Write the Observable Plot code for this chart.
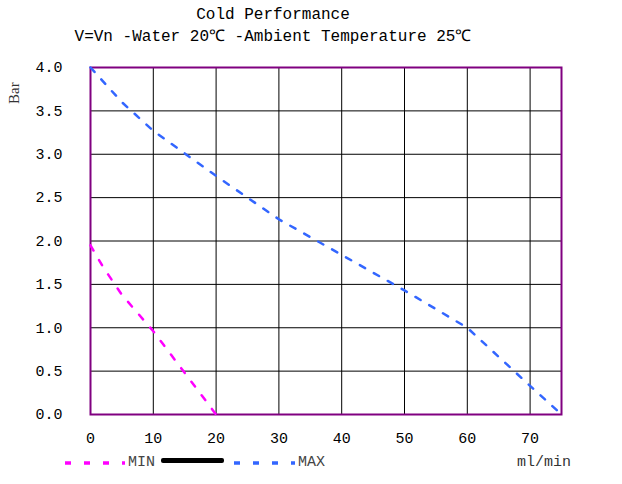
<!DOCTYPE html>
<html>
<head>
<meta charset="utf-8">
<script src="https://cdn.jsdelivr.net/npm/d3@7"></script>
<script src="https://cdn.jsdelivr.net/npm/@observablehq/plot@0.6"></script>
<style>
  html, body { margin: 0; padding: 0; background: #fff; }
  #wrap { position: relative; width: 622px; height: 484px; overflow: hidden; font-family: "Liberation Mono", "DejaVu Sans Mono", monospace; }
  #wrap > svg { position: absolute; left: 0; top: 0; }
  .t { position: absolute; white-space: nowrap; line-height: 1; color: #000; }
  #legend > * { flex: 0 0 auto; }
</style>
</head>
<body>
<div id="wrap">
  <div class="t" style="left:0;width:546px;text-align:center;top:7px;font-size:16px;">Cold Performance</div>
  <div class="t" style="left:0;width:546px;text-align:center;top:29px;font-size:16px;">V=Vn -Water 20℃ -Ambient Temperature 25℃</div>
  <div class="t" style="left:7px;top:104px;font-family:'Liberation Serif',serif;font-size:15px;color:#333;transform:rotate(-90deg);transform-origin:0 0;">Bar</div>
  <div class="t" style="left:517px;top:455px;font-size:15px;color:#333;">ml/min</div>
  <div id="legend" style="position:absolute;left:65px;top:455px;width:320px;display:flex;align-items:center;font-size:15px;color:#444;line-height:1;"></div>
</div>
<script>
// ---- data ----
const minFlow = [0, 2, 5, 10, 15, 20];
const minBar  = [1.95, 1.7, 1.38, 0.96, 0.48, 0];
const maxFlow = [0, 5, 10, 20, 30, 40, 50, 60, 70, 75];
const maxBar  = [4.0, 3.6, 3.27, 2.75, 2.25, 1.84, 1.43, 1.0, 0.33, 0];
const xTicks = [0, 10, 20, 30, 40, 50, 60, 70];
const yTicks = [0, 0.5, 1.0, 1.5, 2.0, 2.5, 3.0, 3.5, 4.0];
const seriesNames = ["MIN", "MAX"];
const seriesColors = ["#ff00ff", "#3366ff"];

const minData = minFlow.map((x, i) => ({x, y: minBar[i]}));
const maxData = maxFlow.map((x, i) => ({x, y: maxBar[i]}));

const chart = Plot.plot({
  width: 622,
  height: 484,
  marginLeft: 90,
  marginRight: 61,
  marginTop: 67,
  marginBottom: 70,
  style: {fontFamily: "'Liberation Mono', monospace", fontSize: "15px", color: "#000", background: "transparent"},
  x: {domain: [0, 75], label: null},
  y: {domain: [0, 4], label: null},
  marks: [
    Plot.gridX(xTicks.filter(d => d > 0), {stroke: "#000", strokeOpacity: 1, strokeWidth: 1}),
    Plot.gridY(yTicks.filter(d => d > 0 && d < 4), {stroke: "#000", strokeOpacity: 1, strokeWidth: 1}),
    Plot.frame({stroke: "#800080", strokeWidth: 2}),
    Plot.line(minData, {x: "x", y: "y", stroke: seriesColors[0], strokeWidth: 2.5, strokeDasharray: "6,11"}),
    Plot.line(maxData, {x: "x", y: "y", stroke: seriesColors[1], strokeWidth: 2.5, strokeDasharray: "6,10"}),
    Plot.axisX(xTicks, {tickSize: 0, tickPadding: 18, label: null, fontSize: 15}),
    Plot.axisY(yTicks, {tickSize: 0, tickPadding: 28, label: null, fontSize: 15, tickFormat: d => d.toFixed(1)})
  ]
});
document.getElementById("wrap").prepend(chart);

// legend
const legend = document.getElementById("legend");
function dashSwatch(color, w, ml) {
  const s = document.createElementNS("http://www.w3.org/2000/svg", "svg");
  s.setAttribute("width", w); s.setAttribute("height", 10);
  s.style.width = w + "px"; s.style.height = "10px"; s.style.display = "block";
  s.style.marginLeft = ml + "px";
  const l = document.createElementNS("http://www.w3.org/2000/svg", "line");
  l.setAttribute("x1", 0); l.setAttribute("x2", w); l.setAttribute("y1", 5); l.setAttribute("y2", 5);
  l.setAttribute("stroke", color); l.setAttribute("stroke-width", 3.5);
  l.setAttribute("stroke-dasharray", "6,13");
  s.appendChild(l);
  return s;
}
function label(txt, ml) {
  const d = document.createElement("span");
  d.textContent = txt; d.style.marginLeft = ml + "px";
  return d;
}
legend.appendChild(dashSwatch(seriesColors[0], 60, 0));
legend.appendChild(label(seriesNames[0], 3));
const bar = document.createElement("div");
bar.style.cssText = "width:63px;height:5px;background:#000;margin-left:6px;border-radius:2px;margin-top:-4px;";
legend.appendChild(bar);
legend.appendChild(dashSwatch(seriesColors[1], 61, 10));
legend.appendChild(label(seriesNames[1], 3));
</script>
</body>
</html>
